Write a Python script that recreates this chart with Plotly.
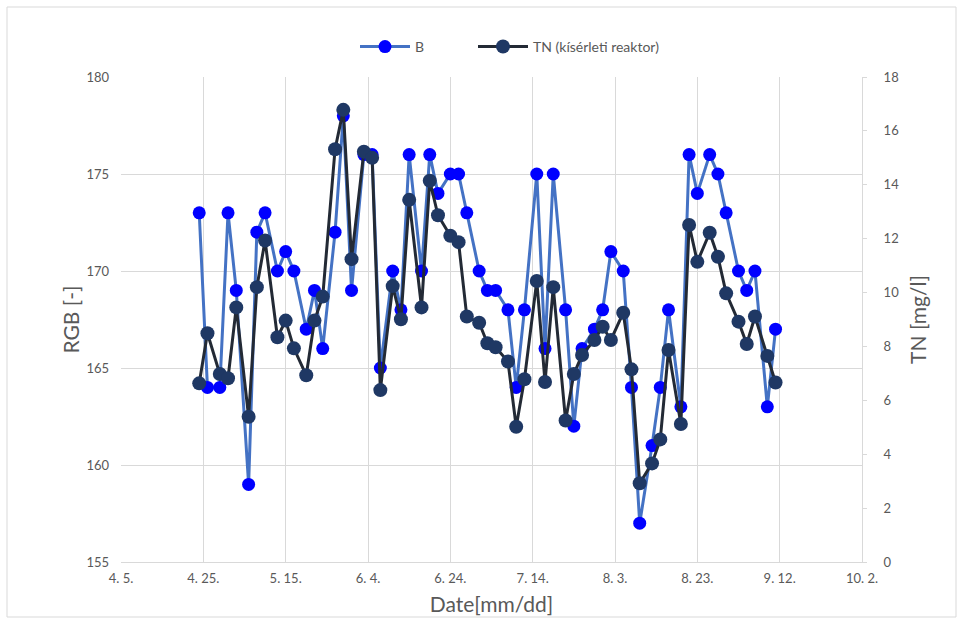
import plotly.graph_objects as go

dates = [
    "2023-04-24", "2023-04-26", "2023-04-29", "2023-05-01", "2023-05-03", "2023-05-06",
    "2023-05-08", "2023-05-10", "2023-05-13", "2023-05-15", "2023-05-17", "2023-05-20",
    "2023-05-22", "2023-05-24", "2023-05-27", "2023-05-29", "2023-05-31", "2023-06-03",
    "2023-06-05", "2023-06-07", "2023-06-10", "2023-06-12", "2023-06-14", "2023-06-17",
    "2023-06-19", "2023-06-21", "2023-06-24", "2023-06-26", "2023-06-28", "2023-07-01",
    "2023-07-03", "2023-07-05", "2023-07-08", "2023-07-10", "2023-07-12", "2023-07-15",
    "2023-07-17", "2023-07-19", "2023-07-22", "2023-07-24", "2023-07-26", "2023-07-29",
    "2023-07-31", "2023-08-02", "2023-08-05", "2023-08-07", "2023-08-09", "2023-08-12",
    "2023-08-14", "2023-08-16", "2023-08-19", "2023-08-21", "2023-08-23", "2023-08-26",
    "2023-08-28", "2023-08-30", "2023-09-02", "2023-09-04", "2023-09-06", "2023-09-09",
    "2023-09-11",
]

b_values = [
    173, 164, 164, 173, 169, 159, 172, 173, 170, 171, 170, 167,
    169, 166, 172, 178, 169, 176, 176, 165, 170, 168, 176, 170,
    176, 174, 175, 175, 173, 170, 169, 169, 168, 164, 168, 175,
    166, 175, 168, 162, 166, 167, 168, 171, 170, 164, 157, 161,
    164, 168, 163, 176, 174, 176, 175, 173, 170, 169, 170, 163,
    167,
]

tn_values = [
    6.63, 8.49, 6.98, 6.82, 9.45, 5.39, 10.2, 11.93, 8.34, 8.96, 7.93, 6.93,
    8.96, 9.85, 15.32, 16.78, 11.24, 15.23, 15.0, 6.38, 10.24, 9.01, 13.44, 9.45,
    14.15, 12.87, 12.11, 11.87, 9.11, 8.88, 8.12, 7.97, 7.44, 5.02, 6.78, 10.43,
    6.68, 10.2, 5.25, 6.98, 7.68, 8.24, 8.73, 8.24, 9.25, 7.15, 2.92, 3.66,
    4.55, 7.87, 5.12, 12.51, 11.14, 12.22, 11.33, 9.97, 8.92, 8.09, 9.11, 7.65,
    6.66,
]

x_range = ["2023-04-05", "2023-10-02"]
FONT = "Lato, 'Open Sans', sans-serif"
GRAY = "#595959"
GRID = "#D9D9D9"

fig = go.Figure()
fig.add_trace(go.Scatter(
    x=dates, y=b_values, name="B", mode="lines+markers",
    line=dict(color="#4472C4", width=3),
    marker=dict(color="#0000FF", size=13),
    yaxis="y", legend="legend",
))
fig.add_trace(go.Scatter(
    x=dates, y=tn_values, name="TN (kísérleti reaktor)", mode="lines+markers",
    line=dict(color="#232A35", width=3),
    marker=dict(color="#1F3864", size=14),
    yaxis="y2", legend="legend2",
))

legend_common = dict(
    orientation="h", yanchor="middle", xanchor="left",
    font=dict(size=14, color=GRAY), itemwidth=50, bgcolor="rgba(0,0,0,0)",
)

fig.update_layout(
    width=963, height=624,
    margin=dict(l=121, r=101, t=77, b=62, autoexpand=False),
    paper_bgcolor="white", plot_bgcolor="white",
    font=dict(family=FONT, color=GRAY, size=13),
    showlegend=True,
    legend=dict(x=(355 - 121) / 741, y=1.062, **legend_common),
    legend2=dict(x=(473 - 121) / 741, y=1.062, **legend_common),
    xaxis=dict(
        type="date", range=x_range, tick0=x_range[0], dtick=20 * 86400000,
        tickformat="%-m. %-d.", showgrid=True, gridcolor=GRID, gridwidth=1,
        showline=True, linecolor=GRID, linewidth=1, ticks="", zeroline=False,
        tickfont=dict(size=13, color=GRAY), ticklabelstandoff=4,
        title=dict(text="Date[mm/dd]", font=dict(size=21, color=GRAY), standoff=12),
        automargin=False,
    ),
    yaxis=dict(
        range=[155, 180], dtick=5, showgrid=True, gridcolor=GRID, gridwidth=1,
        showline=False, zeroline=False, ticks="",
        tickfont=dict(size=13, color=GRAY), ticklabelstandoff=11,
        title=dict(text="RGB [-]", font=dict(size=21, color=GRAY), standoff=1),
        automargin=False,
    ),
    yaxis2=dict(
        range=[0, 18], dtick=2, overlaying="y", side="right", showgrid=False,
        showline=True, linecolor=GRID, linewidth=1, zeroline=False,
        ticks="outside", ticklen=4, tickcolor=GRID,
        tickfont=dict(size=13, color=GRAY), ticklabelstandoff=14,
        title=dict(text="TN [mg/l]", font=dict(size=21, color=GRAY), standoff=13),
        automargin=False,
    ),
    shapes=[dict(
        type="rect", xref="paper", yref="paper",
        x0=(7 - 121) / 741, x1=(956 - 121) / 741,
        y0=(562 - 617) / 485, y1=(562 - 7) / 485,
        line=dict(color=GRID, width=1), fillcolor="rgba(0,0,0,0)", layer="below",
    )],
)

fig.write_html(
    "out.html",
    config={"displayModeBar": False},
    post_script="document.body.style.margin='0';",
)
